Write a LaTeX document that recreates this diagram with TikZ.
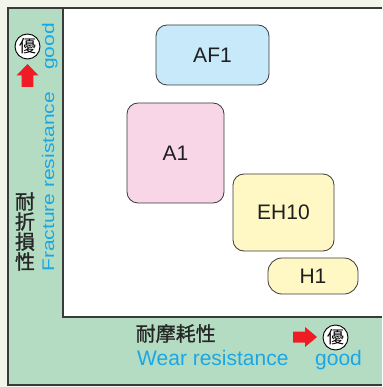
\documentclass[tikz,border=0pt]{standalone}
\usepackage{fontspec}
\setmainfont{Liberation Sans}
\newfontfamily\cjkfont{Noto Sans CJK JP}
\newfontfamily\cjkbold{Noto Sans CJK JP}[FakeBold=1.2]
\definecolor{bgcol}{HTML}{F1F5EA}
\definecolor{panel}{HTML}{B4DCC2}
\definecolor{cyantext}{HTML}{1AA7E6}
\definecolor{redarrow}{HTML}{EE1C25}
\definecolor{edge}{HTML}{3A3A3A}
\definecolor{bluefill}{HTML}{C8E9F9}
\definecolor{pinkfill}{HTML}{F9D6E7}
\definecolor{yellowfill}{HTML}{FFF8C4}
\tikzset{
  gradebox/.style={draw=edge, line width=0.8pt, rounded corners=11pt, inner sep=0pt,
    font=\fontsize{21}{21}\selectfont, text=black!88},
  yu/.style={circle, draw=black, line width=0.9pt, fill=white, minimum size=25pt, inner sep=0pt,
    font=\cjkfont\fontsize{17}{17}\selectfont},
  entext/.style={text=cyantext, inner sep=0pt, font=\fontsize{21}{21}\selectfont},
  jptext/.style={text=black!85, inner sep=0pt, font=\cjkbold\fontsize{20}{21}\selectfont},
  frame/.style={draw=edge, line width=1.2pt}
}
\begin{document}
\begin{tikzpicture}[x=1pt, y=-1pt]
\useasboundingbox (0,0) rectangle (382,387);
\fill[bgcol] (0,0) rectangle (382,387);
% green panel
\fill[panel] (8,8) rectangle (382,385);
% white plot area
\fill[white] (63,8) rectangle (382,317);
\draw[frame] (382,8) -- (8,8) -- (8,385) -- (382,385);
\draw[frame] (63,8) -- (63,317) -- (382,317);

% grade boxes
\node[gradebox, fill=bluefill, minimum width=113pt, minimum height=60pt] (af1) at (212.5,55) {AF1};
\node[gradebox, fill=pinkfill, minimum width=97pt, minimum height=100pt] (a1) at (175.5,153) {A1};
\node[gradebox, fill=yellowfill, minimum width=101pt, minimum height=77pt, text depth=-4pt] (eh10) at (283.5,212.5) {EH10};
\node[gradebox, fill=yellowfill, minimum width=90pt, minimum height=36pt, rounded corners=14pt] (h1) at (313,276) {H1};

% vertical axis
\node[yu] (yuL) at (27.5,46.5) {優};
\fill[redarrow] (27.5,64) -- (38.5,75.5) -- (33.3,75.5) -- (33.3,87) -- (21.7,87) -- (21.7,75.5) -- (16.5,75.5) -- cycle;
\node[entext, rotate=90, anchor=base west] (goodL) at (54,70) {\scalebox{1}[0.8]{good}};
\node[entext, rotate=90, anchor=base west] (fracture) at (54,272) {\scalebox{1}[0.8]{Fracture resistance}};
\node[jptext, align=center, anchor=center] (jpV) at (25,231.5) {耐\\[-1pt]折\\[-1pt]損\\[-1pt]性};

% horizontal axis
\node[jptext, anchor=west] (jpH) at (135.5,333.5) {耐摩耗性};
\node[entext, anchor=base west] (wear) at (137,365) {Wear resistance};
\fill[redarrow] (317,337) -- (305,327) -- (305,331.5) -- (293,331.5) -- (293,342.5) -- (305,342.5) -- (305,347) -- cycle;
\node[yu] (yuB) at (335.5,337.5) {優};
\node[entext, anchor=base west] (goodB) at (315,365) {good};
\end{tikzpicture}
\end{document}
